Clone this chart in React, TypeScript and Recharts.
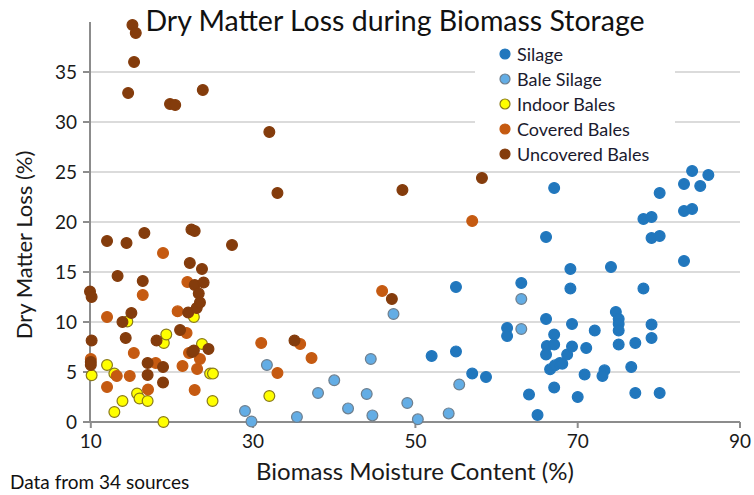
import React from 'react';
import { ScatterChart, Scatter, XAxis, YAxis, CartesianGrid, Legend } from 'recharts';

// [moisture %, dry matter loss %]
const silage: number[][] = [
  [52.0, 6.6], [55.0, 13.5], [55.0, 7.06], [57.0, 4.84], [58.7, 4.5], [61.3, 9.4], [61.3, 8.6],
  [63.05, 13.9], [64.0, 2.75], [65.05, 0.7], [66.1, 18.5], [66.1, 10.3], [66.2, 7.6], [66.1, 6.75],
  [66.6, 5.27], [67.1, 23.4], [67.1, 8.75], [67.1, 7.75], [67.2, 5.67], [67.8, 5.9], [68.1, 5.83],
  [67.1, 3.45], [68.7, 6.75], [69.1, 15.3], [69.1, 13.35], [69.3, 9.8], [69.3, 7.55], [70.0, 2.5],
  [70.85, 4.74], [71.05, 7.4], [72.1, 9.15], [73.3, 5.17], [73.05, 4.6], [74.1, 15.5], [74.7, 11.0],
  [75.05, 10.3], [75.05, 9.8], [75.05, 9.15], [75.05, 7.75], [76.6, 5.5], [77.1, 7.9], [77.1, 2.9],
  [78.1, 20.3], [78.1, 13.35], [79.1, 20.5], [79.1, 18.4], [79.1, 9.75], [79.1, 8.4], [80.1, 22.9],
  [80.1, 18.6], [80.1, 2.9], [83.1, 23.8], [83.1, 21.1], [83.1, 16.1], [84.1, 25.1], [84.1, 21.3],
  [85.1, 23.6], [86.1, 24.7],
];

const baleSilage: number[][] = [
  [29.0, 1.1], [29.8, 0.05], [31.7, 5.7], [35.4, 0.5], [38.0, 2.9], [40.0, 4.17], [41.7, 1.36],
  [44.0, 2.8], [44.5, 6.3], [44.7, 0.66], [47.3, 10.8], [49.0, 1.9], [50.3, 0.27], [54.1, 0.86],
  [55.4, 3.75], [63.05, 12.3], [63.05, 9.3],
];

const indoorBales: number[][] = [
  [10.1, 4.67], [12.0, 5.7], [12.9, 4.84], [12.9, 1.0], [13.9, 2.1], [14.5, 10.05], [15.7, 2.85],
  [16.0, 2.35], [17.0, 2.1], [18.95, 0], [19.0, 7.9], [19.3, 8.75], [22.7, 10.5], [23.7, 7.8],
  [24.7, 4.84], [25.05, 4.84], [25.0, 2.1], [32.0, 2.6],
];

const coveredBales: number[][] = [
  [10.0, 6.3], [12.0, 10.5], [12.0, 3.5], [13.2, 4.6], [14.8, 4.6], [15.3, 6.9], [16.4, 12.7],
  [17.05, 3.25], [18.0, 5.9], [18.9, 16.9], [20.7, 11.07], [21.3, 5.6], [21.8, 8.9], [21.9, 14.0],
  [22.1, 6.9], [22.8, 3.2], [23.1, 5.3], [23.45, 6.3], [31.0, 7.9], [33.0, 4.9], [35.8, 7.8],
  [37.2, 6.4], [45.9, 13.1], [57.0, 20.1],
];

const uncoveredBales: number[][] = [
  [9.9, 13.05], [10.1, 12.5], [10.1, 8.15], [10.0, 6.0], [10.0, 5.7], [12.0, 18.1], [13.3, 14.6],
  [13.9, 10.0], [14.3, 8.4], [14.4, 17.9], [14.6, 32.9], [15.0, 10.9], [15.13, 39.7], [15.33, 36.0],
  [15.54, 38.9], [16.4, 14.1], [16.6, 18.9], [17.0, 5.9], [17.0, 4.7], [18.1, 8.15], [18.9, 5.5],
  [18.9, 3.95], [19.76, 31.8], [20.4, 31.7], [21.0, 9.2], [22.0, 10.95], [22.2, 15.9], [22.4, 19.25],
  [22.5, 7.0], [22.7, 7.15], [22.8, 19.1], [22.8, 13.7], [23.05, 11.4], [23.3, 12.85], [23.45, 11.95],
  [23.7, 15.3], [23.8, 33.2], [23.9, 13.95], [24.5, 7.3], [27.4, 17.7], [32.0, 29.0], [33.0, 22.9],
  [35.1, 8.15], [47.1, 12.3], [48.4, 23.2], [58.2, 24.4],
];

const xTicks = [10, 30, 50, 70, 90];
const yTicks = [0, 5, 10, 15, 20, 25, 30, 35];

const FONT = 'Lato, "Open Sans", sans-serif';

const series = [
  { name: 'Silage', data: silage, fill: '#2177BD', stroke: '#2177BD' },
  { name: 'Bale Silage', data: baleSilage, fill: '#63ADE5', stroke: '#6E7F8E' },
  { name: 'Indoor Bales', data: indoorBales, fill: '#FFFF00', stroke: '#8A7A1A' },
  { name: 'Covered Bales', data: coveredBales, fill: '#C55A11', stroke: '#C55A11' },
  { name: 'Uncovered Bales', data: uncoveredBales, fill: '#843C0C', stroke: '#843C0C' },
];

const toPoints = (d: number[][]) => d.map(([x, y]) => ({ x, y }));

const Dot = (fill: string, stroke: string) => (props: any) => (
  <circle cx={props.cx} cy={props.cy} r={5.4} fill={fill} stroke={stroke} strokeWidth={1.2} />
);

const LegendBox = () => (
  <div style={{ background: '#fff', width: 200, height: 128, fontFamily: FONT, fontSize: 18, color: '#1a1a2e' }}>
    {series.map((s) => (
      <div key={s.name} style={{ height: 25, display: 'flex', alignItems: 'center', paddingLeft: 24 }}>
        <svg width={12} height={12} style={{ marginRight: 6 }}>
          <circle cx={6} cy={6} r={5} fill={s.fill} stroke={s.stroke} strokeWidth={1.2} />
        </svg>
        {s.name}
      </div>
    ))}
  </div>
);

export default function App() {
  return (
    <div style={{ position: 'absolute', left: 0, top: 0, width: 754, height: 495, background: '#fff', overflow: 'hidden' }}>
      <ScatterChart width={754} height={495} margin={{ top: 22, right: 14, bottom: 0, left: 0 }}>
        <CartesianGrid vertical={false} horizontalValues={[5, 10, 15, 20, 25, 30, 35]} stroke="#CFCFCF" strokeWidth={1.5} />
        <XAxis
          type="number"
          dataKey="x"
          domain={[10, 90]}
          ticks={xTicks}
          height={73}
          stroke="#8C8C8C"
          strokeWidth={2}
          tickSize={6}
          tickMargin={7}
          tick={{ fill: '#1a1a1a', fontSize: 19, fontFamily: FONT }}
          label={{ value: 'Biomass Moisture Content (%)', position: 'insideBottom', offset: 15, fill: '#1a1a1a', fontSize: 24, fontFamily: FONT }}
        />
        <YAxis
          type="number"
          dataKey="y"
          domain={[0, 40]}
          ticks={yTicks}
          width={90}
          stroke="#8C8C8C"
          strokeWidth={2}
          tickSize={7}
          tickMargin={6}
          tick={{ fill: '#1a1a1a', fontSize: 19, fontFamily: FONT }}
          label={(p: any) => (
            <text x={23} y={245} transform="rotate(-90 23 245)" textAnchor="middle" dominantBaseline="central" fill="#1a1a1a" fontSize={22} fontFamily={FONT}>
              Dry Matter Loss (%)
            </text>
          )}
        />
        <Legend
          layout="horizontal"
          verticalAlign="middle"
          content={<LegendBox />}
          wrapperStyle={{ position: 'absolute', left: 475, top: 41, width: 200 }}
        />
        {series.map((s) => (
          <Scatter key={s.name} name={s.name} data={toPoints(s.data)} shape={Dot(s.fill, s.stroke)} isAnimationActive={false} />
        ))}
      </ScatterChart>
      <div style={{ position: 'absolute', left: 0, width: 790, top: 3, textAlign: 'center', fontFamily: FONT, fontSize: 28.5, color: '#111' }}>
        Dry Matter Loss during Biomass Storage
      </div>
      <div style={{ position: 'absolute', left: 10, top: 472, height: 20, lineHeight: '20px', fontFamily: FONT, fontSize: 19, color: '#111', whiteSpace: 'nowrap' }}>
        Data from 34 sources
      </div>
    </div>
  );
}
